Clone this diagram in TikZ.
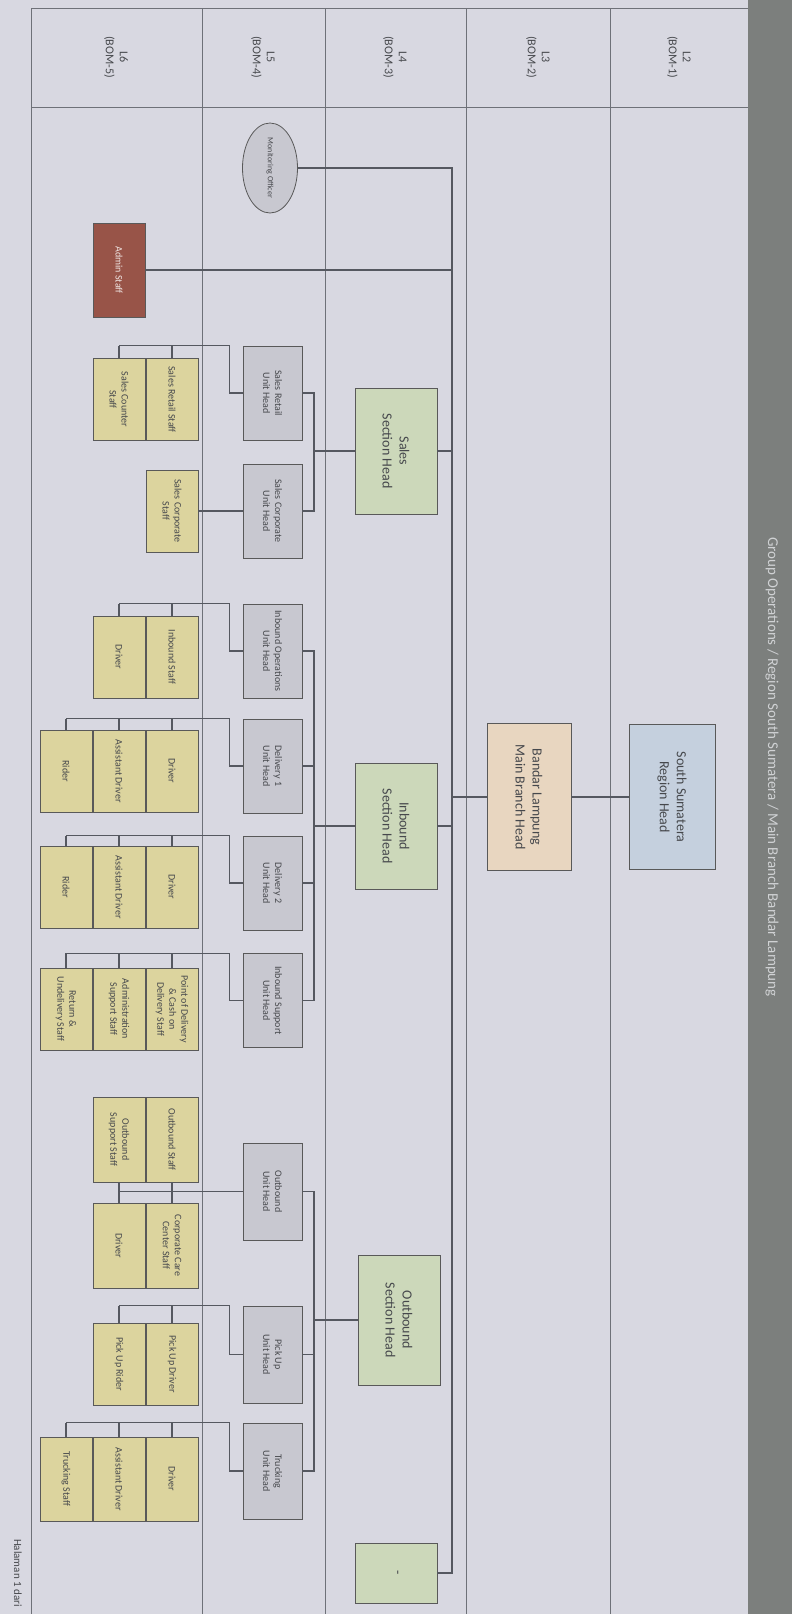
\documentclass[tikz,border=0pt]{standalone}
\usepackage{fontspec}
\setmainfont{Carlito}
\usetikzlibrary{shapes.geometric}

\definecolor{paper}{RGB}{216,216,225}
\definecolor{linecol}{RGB}{85,88,96}
\definecolor{band}{RGB}{124,127,125}
\definecolor{bandtext}{RGB}{208,210,212}
\definecolor{regionfill}{RGB}{197,208,222}
\definecolor{branchfill}{RGB}{232,214,192}
\definecolor{sectfill}{RGB}{204,216,186}
\definecolor{unitfill}{RGB}{200,200,208}
\definecolor{stafffill}{RGB}{220,212,158}
\definecolor{brick}{RGB}{152,84,72}
\definecolor{ink}{RGB}{70,72,76}

\tikzset{
    conn/.style={draw=linecol, line width=0.6pt},
    gridline/.style={draw=linecol!85, line width=0.5pt},
    orgbox/.style={draw=gray!70!black, line width=0.4pt, rotate=-90, inner sep=0pt, align=center, text=ink},
    bighead/.style={orgbox, font=\fontsize{7}{8.5}\selectfont, minimum height=42pt},
    secthead/.style={bighead, fill=sectfill, minimum width=63pt, minimum height=41pt},
    unithead/.style={orgbox, fill=unitfill, font=\fontsize{5}{6}\selectfont, minimum width=47pt, minimum height=29.5pt},
    staffbox/.style={orgbox, fill=stafffill, font=\fontsize{5}{6}\selectfont, minimum width=41pt, minimum height=26pt},
    lvllabel/.style={rotate=-90, align=center, text=ink, font=\fontsize{6}{7}\selectfont},
}

\newcommand{\staffbus}[3]{%
    \draw[conn] (#1.south) -- ++(-13,0) |- (#2.west |- #1.west);
    \foreach \s in {#3} {\draw[conn] (\s.west |- #1.west) -- (\s.west);}
}

\begin{document}
\begin{tikzpicture}[x=0.5pt, y=-0.5pt]
        \useasboundingbox (0,0) rectangle (792,1614);
        \fill[paper] (0,0) rectangle (792,1614);
        \fill[band] (748,0) rectangle (792,1614);
        \draw[gridline] (31,8) -- (748,8) (31,107) -- (748,107);
        \foreach \gx in {31,202,325,466,610}
            \draw[gridline] (\gx,8) -- (\gx,1614);

        \node[lvllabel] (l6) at (116,57) {L6\\(BOM-5)};
        \node[lvllabel] (l5) at (263,57) {L5\\(BOM-4)};
        \node[lvllabel] (l4) at (395,57) {L4\\(BOM-3)};
        \node[lvllabel] (l3) at (538,57) {L3\\(BOM-2)};
        \node[lvllabel] (l2) at (679,57) {L2\\(BOM-1)};
        \node[rotate=-90, anchor=west, text=bandtext, font=\fontsize{7.5}{9}\selectfont] (title) at (772,530)
            {Group Operations / Region South Sumatera / Main Branch Bandar Lampung};
        \node[rotate=-90, anchor=west, text=ink, font=\fontsize{5.5}{6.5}\selectfont] (page) at (18,1532) {Halaman 1 dari};

        \node[bighead, fill=regionfill, minimum width=72.5pt, minimum height=43pt] (region) at (672,797) {South Sumatera\\Region Head};
        \node[bighead, fill=branchfill, minimum width=73.5pt] (branch) at (529,797) {Bandar Lampung\\Main Branch Head};

        \node[orgbox, ellipse, fill=unitfill, minimum width=45pt, minimum height=27.5pt, font=\fontsize{4}{5}\selectfont] (mon) at (270,168) {Monitoring Officer};
        \node[orgbox, fill=brick, text=white!85!brick, minimum width=47pt, minimum height=26pt, font=\fontsize{5}{6}\selectfont] (adm) at (119,270) {Admin Staff};

        \node[secthead] (ssec) at (396,451) {Sales\\Section Head};
        \node[secthead] (isec) at (396,826) {Inbound\\Section Head};
        \node[secthead, minimum width=65pt] (osec) at (399,1320) {Outbound\\Section Head};
        \node[secthead, minimum width=30pt] (nil) at (396,1573) {-};

        \node[unithead] (srtl) at (272.5,393) {Sales Retail\\Unit Head};
        \node[unithead] (scorp) at (272.5,511) {Sales Corporate\\Unit Head};
        \node[unithead] (iops) at (272.5,651) {Inbound Operations\\Unit Head};
        \node[unithead] (del1) at (272.5,766) {Delivery 1\\Unit Head};
        \node[unithead] (del2) at (272.5,883) {Delivery 2\\Unit Head};
        \node[unithead] (isup) at (272.5,1000.5) {Inbound Support\\Unit Head};
        \node[unithead, minimum width=48.5pt] (obu) at (272.5,1191.5) {Outbound\\Unit Head};
        \node[unithead, minimum width=48.5pt] (pick) at (272.5,1354.5) {Pick Up\\Unit Head};
        \node[unithead, minimum width=48pt] (truck) at (272.5,1471) {Trucking\\Unit Head};

        \node[staffbox] (srst) at (172,399.5) {Sales Retail Staff};
        \node[staffbox] (srcnt) at (119,399.5) {Sales Counter\\Staff};
        \node[staffbox] (scst) at (172,511) {Sales Corporate\\Staff};
        \node[staffbox] (iost) at (172,657) {Inbound Staff};
        \node[staffbox] (iodrv) at (119,657) {Driver};
        \node[staffbox] (d1drv) at (172,771) {Driver};
        \node[staffbox] (d1ast) at (119,771) {Assistant Driver};
        \node[staffbox] (d1rdr) at (66,771) {Rider};
        \node[staffbox] (d2drv) at (172,887) {Driver};
        \node[staffbox] (d2ast) at (119,887) {Assistant Driver};
        \node[staffbox] (d2rdr) at (66,887) {Rider};
        \node[staffbox] (ispod) at (172,1009) {Point of Delivery\\\& Cash on\\Delivery Staff};
        \node[staffbox] (isadm) at (119,1009) {Administration\\Support Staff};
        \node[staffbox] (isret) at (66,1009) {Return \&\\Undelivery Staff};
        \node[staffbox, minimum width=42.5pt] (obst) at (172,1139.5) {Outbound Staff};
        \node[staffbox, minimum width=42.5pt] (obsup) at (119,1139.5) {Outbound\\Support Staff};
        \node[staffbox, minimum width=42.5pt] (occ) at (172,1245.5) {Corporate Care\\Center Staff};
        \node[staffbox, minimum width=42.5pt] (obdrv) at (119,1245.5) {Driver};
        \node[staffbox] (pkdrv) at (172,1364) {Pick Up Driver};
        \node[staffbox] (pkrdr) at (119,1364) {Pick Up Rider};
        \node[staffbox, minimum width=42pt] (trdrv) at (172,1479) {Driver};
        \node[staffbox, minimum width=42pt] (trast) at (119,1479) {Assistant Driver};
        \node[staffbox, minimum width=42pt] (trst) at (66,1479) {Trucking Staff};

        \coordinate (trunk) at (452,168);
        \coordinate (sbus) at (314,0);
        \draw[conn] (mon.north) -- (trunk) |- (nil.north);
        \draw[conn] (adm.north) -- (adm.north -| trunk);
        \draw[conn] (region.south) -- (branch.north);
        \draw[conn] (branch.south) -- (branch.south -| trunk);
        \draw[conn] (ssec.north) -- (ssec.north -| trunk);
        \draw[conn] (isec.north) -- (isec.north -| trunk);

        \draw[conn] (ssec.south) -- (ssec.south -| sbus);
        \draw[conn] (srtl.north) -- (srtl.north -| sbus) -- (scorp.north -| sbus) -- (scorp.north);
        \draw[conn] (isec.south) -- (isec.south -| sbus);
        \draw[conn] (iops.north) -- (iops.north -| sbus) -- (isup.north -| sbus) -- (isup.north);
        \draw[conn] (del1.north) -- (del1.north -| sbus);
        \draw[conn] (del2.north) -- (del2.north -| sbus);
        \draw[conn] (osec.south) -- (osec.south -| sbus);
        \draw[conn] (obu.north) -- (obu.north -| sbus) -- (truck.north -| sbus) -- (truck.north);
        \draw[conn] (pick.north) -- (pick.north -| sbus);

        \staffbus{srtl}{srcnt}{srst,srcnt}
        \draw[conn] (scorp.south) -- (scst.north);
        \staffbus{iops}{iodrv}{iost,iodrv}
        \staffbus{del1}{d1rdr}{d1drv,d1ast,d1rdr}
        \staffbus{del2}{d2rdr}{d2drv,d2ast,d2rdr}
        \staffbus{isup}{isret}{ispod,isadm,isret}
        \draw[conn] (obu.south) -- (obu.south -| obsup.center);
        \draw[conn] (obst.east) -- (occ.west);
        \draw[conn] (obsup.east) -- (obdrv.west);
        \staffbus{pick}{pkrdr}{pkdrv,pkrdr}
        \staffbus{truck}{trst}{trdrv,trast,trst}
    \end{tikzpicture}
\end{document}
